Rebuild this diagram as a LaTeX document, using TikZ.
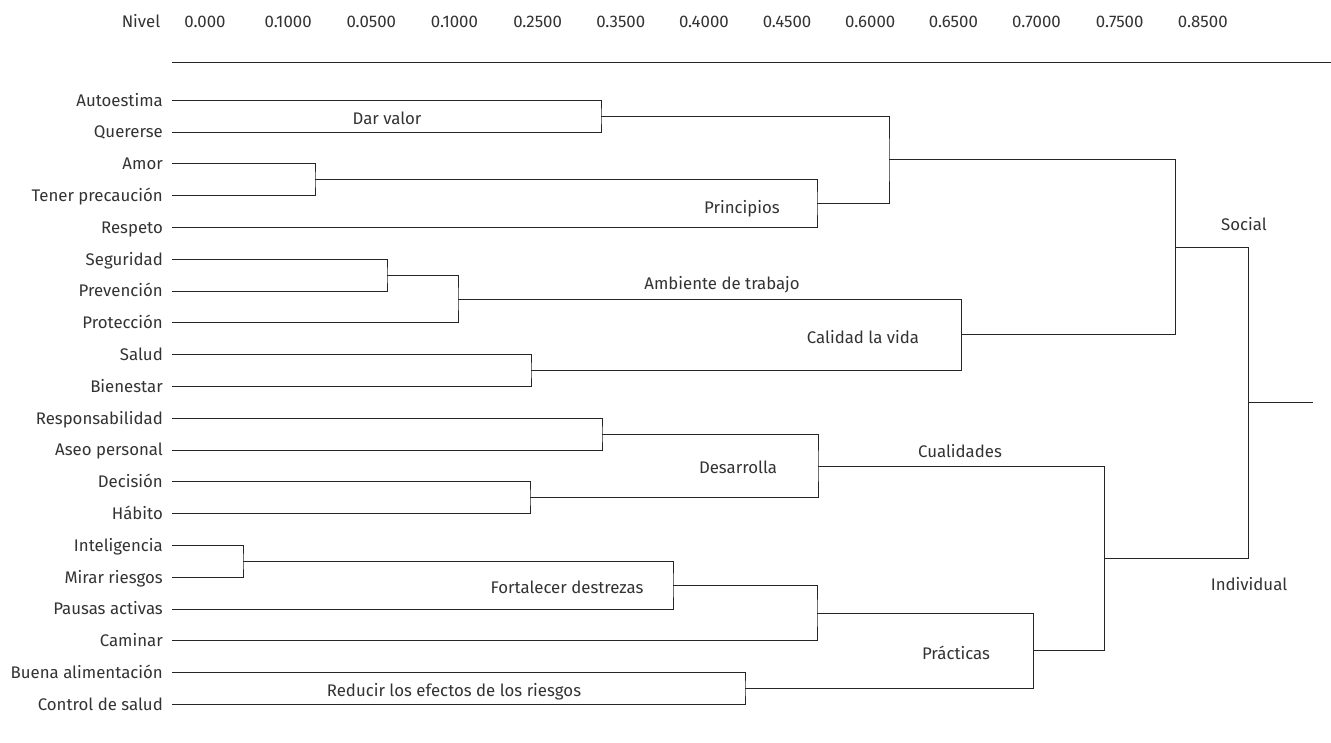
\documentclass[tikz,border=0pt]{standalone}
\usepackage{fontspec}
\setmainfont{Fira Sans}
\usetikzlibrary{calc}
\definecolor{ink}{HTML}{252525}
\definecolor{txt}{HTML}{333333}
\begin{document}
\begin{tikzpicture}[x=1pt,y=-1pt,
  every node/.style={inner sep=0pt,text=txt,font=\fontsize{16.8}{20}\selectfont},
  lbl/.style={anchor=base},
  leaf/.style={anchor=base east},
  link/.style={draw=ink,line width=1pt,line cap=rect}]
\useasboundingbox (0,0) rectangle (1331,742);
\fill[white] (0,0) rectangle (1331,742);
% header
\node[lbl] (nivel) at (141,27) {Nivel};
\foreach \v [count=\i from 0] in {0.000,0.1000,0.0500,0.1000,0.2500,0.3500,0.4000,0.4500,0.6000,0.6500,0.7000,0.7500,0.8500}{
  \node[lbl] (h\i) at ({205+83.15*\i},27) {\v};
}
\coordinate (topL) at (172,62);
\coordinate (topR) at (1331,62);
\draw[link,line cap=butt] (topL) -- (topR);
% leaves
\foreach \t [count=\i from 0] in {Autoestima,Quererse,Amor,Tener precaución,Respeto,Seguridad,Prevención,Protección,Salud,Bienestar,Responsabilidad,Aseo personal,Decisión,Hábito,Inteligencia,Mirar riesgos,Pausas activas,Caminar,Buena alimentación,Control de salud}{
  \coordinate (l\i) at (172,{100.3+31.8*\i});
  \node[leaf] (n\i) at (163,{106+31.8*\i}) {\t};
}
% joins
\coordinate (j1) at (601,116.2);
\coordinate (j2) at (315,179.8);
\coordinate (j3) at (817,203.65);
\coordinate (j4) at (889,159.9);
\coordinate (j5) at (387,275.2);
\coordinate (j6) at (458,299.05);
\coordinate (j7) at (531,370.6);
\coordinate (j8) at (961,334.8);
\coordinate (j9) at (1175,247.35);
\coordinate (j10) at (602,434.2);
\coordinate (j11) at (530,497.8);
\coordinate (j12) at (818,466);
\coordinate (j13) at (243,561.4);
\coordinate (j14) at (673,585.25);
\coordinate (j15) at (817,613.1);
\coordinate (j16) at (745,688.6);
\coordinate (j17) at (1033,650.8);
\coordinate (j18) at (1104,558.4);
\coordinate (j19) at (1248,402.9);
\coordinate (rootend) at (1312,402.9);
% links
\draw[link] (l0) -| (j1) |- (l1);
\draw[link] (l2) -| (j2) |- (l3);
\draw[link] (j2) -| (j3) |- (l4);
\draw[link] (j1) -| (j4) |- (j3);
\draw[link] (l5) -| (j5) |- (l6);
\draw[link] (j5) -| (j6) |- (l7);
\draw[link] (l8) -| (j7) |- (l9);
\draw[link] (j6) -| (j8) |- (j7);
\draw[link] (j4) -| (j9) |- (j8);
\draw[link] (l10) -| (j10) |- (l11);
\draw[link] (l12) -| (j11) |- (l13);
\draw[link] (j10) -| (j12) |- (j11);
\draw[link] (l14) -| (j13) |- (l15);
\draw[link] (j13) -| (j14) |- (l16);
\draw[link] (j14) -| (j15) |- (l17);
\draw[link] (l18) -| (j16) |- (l19);
\draw[link] (j15) -| (j17) |- (j16);
\draw[link] (j12) -| (j18) |- (j17);
\draw[link] (j9) -| (j19) |- (j18);
\draw[link] (j19) -- (rootend);
% cluster labels
\node[lbl] (dar) at (387,124) {Dar valor};
\node[lbl] (pri) at (742,213) {Principios};
\node[lbl] (amb) at (722,289) {Ambiente de trabajo};
\node[lbl] (cal) at (863,343) {Calidad la vida};
\node[lbl] (des) at (738,473) {Desarrolla};
\node[lbl] (cua) at (960,457) {Cualidades};
\node[lbl] (for) at (567,593) {Fortalecer destrezas};
\node[lbl] (pra) at (956,659) {Prácticas};
\node[lbl] (red) at (454,696) {Reducir los efectos de los riesgos};
\node[lbl] (soc) at (1244,230) {Social};
\node[lbl] (ind) at (1249,590) {Individual};
\end{tikzpicture}
\end{document}
